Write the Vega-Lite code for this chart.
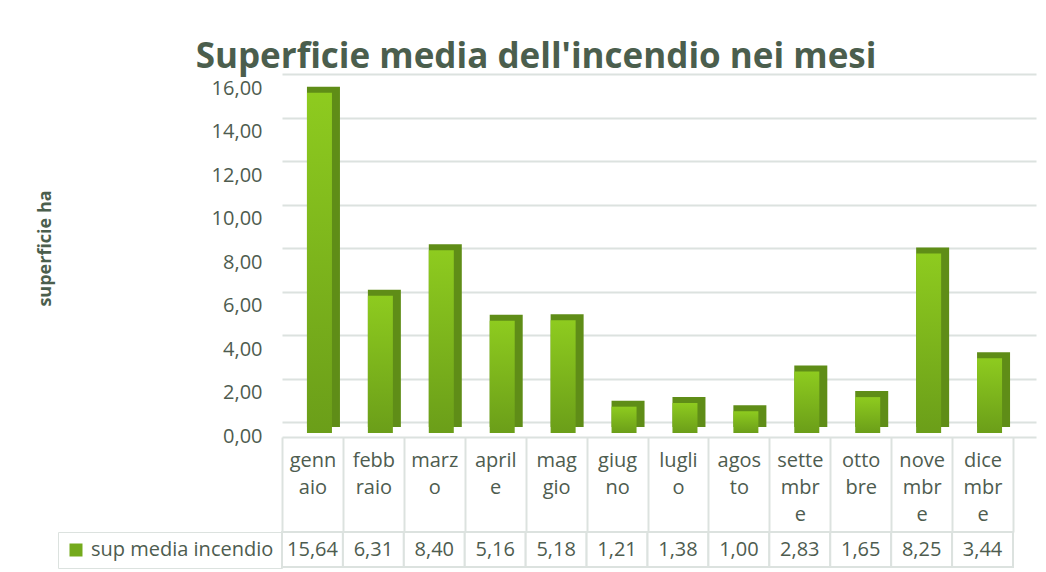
{
  "$schema": "https://vega.github.io/schema/vega-lite/v6.json",
  "padding": {"left": 36, "top": 40, "right": 5, "bottom": 5},
  "background": "white",
  "config": {
    "locale": {"number": {"decimal": ",", "thousands": ".", "grouping": [3], "currency": ["", " €"]}},
    "font": "Open Sans",
    "view": {"stroke": null}
  },
  "title": {
    "text": "Superficie media dell'incendio nei mesi",
    "font": "Open Sans",
    "fontSize": 35,
    "fontWeight": "bold",
    "color": "#4b5e4d",
    "baseline": "alphabetic",
    "offset": -29,
    "anchor": "middle"
  },
  "datasets": {
    "mesi": [
      {"mese": "gennaio", "superficie": 15.64},
      {"mese": "febbraio", "superficie": 6.31},
      {"mese": "marzo", "superficie": 8.40},
      {"mese": "aprile", "superficie": 5.16},
      {"mese": "maggio", "superficie": 5.18},
      {"mese": "giugno", "superficie": 1.21},
      {"mese": "luglio", "superficie": 1.38},
      {"mese": "agosto", "superficie": 1.00},
      {"mese": "settembre", "superficie": 2.83},
      {"mese": "ottobre", "superficie": 1.65},
      {"mese": "novembre", "superficie": 8.25},
      {"mese": "dicembre", "superficie": 3.44}
    ]
  },
  "bounds": "flush",
  "spacing": 110,
  "resolve": {"scale": {"color": "independent"}, "legend": {"color": "independent"}},
  "vconcat": [
    {
      "width": 754,
      "height": 348,
      "data": {"name": "mesi"},
      "encoding": {
        "x": {
          "field": "mese",
          "type": "nominal",
          "sort": null,
          "scale": {"paddingInner": 0, "paddingOuter": 0.1887, "align": 0},
          "axis": {
            "title": null,
            "orient": "bottom",
            "offset": 15,
            "domainColor": "#dce2df",
            "domainWidth": 2,
            "ticks": true,
            "tickBand": "extent",
            "tickSize": 95,
            "tickColor": "#dce2df",
            "tickWidth": 2,
            "labelAngle": 0,
            "labelFontSize": 20,
            "labelColor": "#4e5c4f",
            "labelLineHeight": 27,
            "labelPadding": -82,
            "labelOverlap": false,
            "labelLimit": 0,
            "labelExpr": "{'gennaio':['genn','aio'],'febbraio':['febb','raio'],'marzo':['marz','o'],'aprile':['april','e'],'maggio':['mag','gio'],'giugno':['giug','no'],'luglio':['lugli','o'],'agosto':['agos','to'],'settembre':['sette','mbr','e'],'ottobre':['otto','bre'],'novembre':['nove','mbr','e'],'dicembre':['dice','mbr','e']}[datum.value]"
          }
        },
        "y": {
          "field": "superficie",
          "type": "quantitative",
          "scale": {"domain": [0, 16], "nice": false},
          "axis": {
            "title": "superficie ha",
            "titleFontSize": 18,
            "titleFontWeight": "bold",
            "titleColor": "#4b5e4d",
            "titlePadding": 157,
            "values": [0, 2, 4, 6, 8, 10, 12, 14, 16],
            "format": ".2f",
            "labelFontSize": 20,
            "labelColor": "#4e5c4f",
            "labelPadding": 20,
            "labelOffset": 14,
            "ticks": false,
            "domain": false,
            "grid": true,
            "gridColor": "#dce2df",
            "gridWidth": 2
          }
        }
      },
      "layer": [
        {"mark": {"type": "bar", "width": 33, "xOffset": 11, "yOffset": 5, "y2Offset": 5, "color": "#5f8d17"}},
        {"mark": {"type": "bar", "width": 25, "xOffset": 7, "yOffset": 11, "y2Offset": 11,
          "color": {"gradient": "linear", "x1": 0, "y1": 0, "x2": 0, "y2": 1,
            "stops": [{"offset": 0, "color": "#8ecb1f"}, {"offset": 1, "color": "#6b9e19"}]}}}
      ]
    },
    {
      "width": 731,
      "height": 35,
      "data": {"name": "mesi"},
      "encoding": {
        "x": {"field": "mese", "type": "nominal", "sort": null, "axis": null}
      },
      "layer": [
        {"mark": {"type": "rect", "fill": "white", "stroke": "#dce2df", "strokeWidth": 2}},
        {"mark": {"type": "text", "fontSize": 20, "color": "#4e5c4f"},
          "encoding": {"text": {"field": "superficie", "type": "quantitative", "format": ".2f"}}},
        {"mark": {"type": "text"},
          "encoding": {
            "text": {"value": ""},
            "color": {
              "datum": "sup media incendio",
              "scale": {"range": ["#74aa1c"]},
              "legend": {
                "orient": "left",
                "offset": 0,
                "title": null,
                "symbolType": "square",
                "symbolSize": 169,
                "symbolStrokeWidth": 0,
                "symbolOpacity": 1,
                "labelFontSize": 20,
                "labelColor": "#4e5c4f",
                "labelOffset": 5,
                "labelLimit": 300,
                "padding": 8,
                "strokeColor": "#dce2df"
              }
            }
          }}
      ]
    }
  ]
}
